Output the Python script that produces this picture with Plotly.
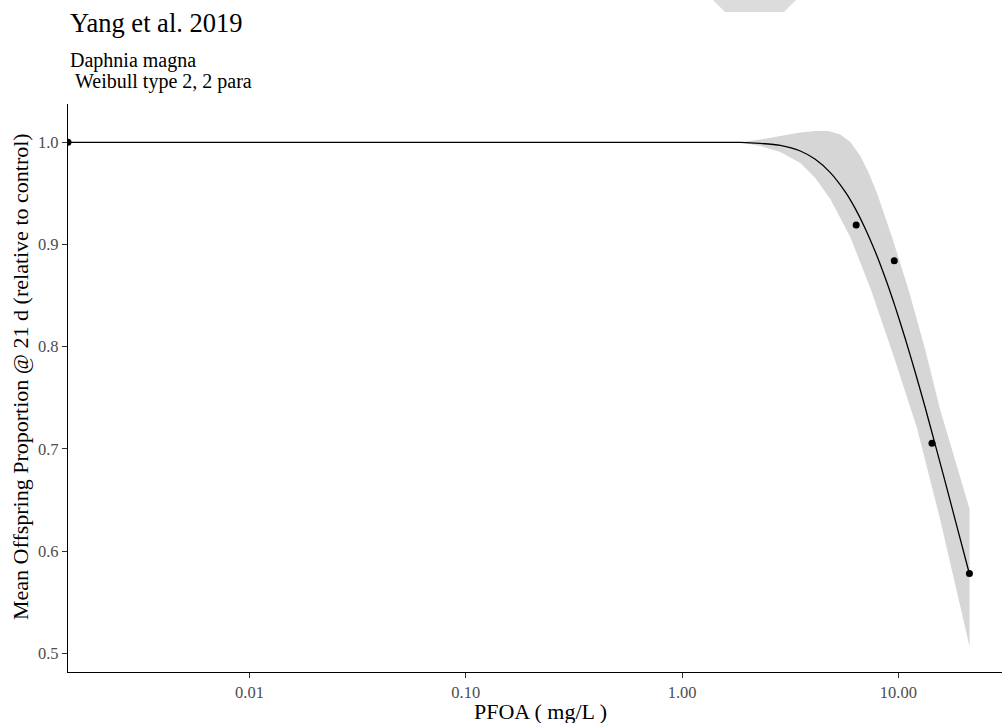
import plotly.graph_objects as go

# Observed mean offspring proportions (dose 0 = control)
dose = [0, 6.38, 9.57, 14.3, 21.3]
response = [1.0, 0.919, 0.884, 0.7055, 0.578]

# Fitted Weibull (type 2, 2 parameter) curve
fit_dose = [1.502, 1.858, 2.299, 2.844, 3.520, 4.128, 4.844, 5.682, 6.321,
            7.031, 7.821, 8.698, 9.676, 10.76, 11.97, 13.32, 14.81, 16.48,
            18.33, 21.34]
fit_resp = [1.000, 1.000, 0.999, 0.997, 0.9915, 0.9834, 0.9704, 0.9515, 0.9351,
            0.9155, 0.8929, 0.8672, 0.8387, 0.8078, 0.7748, 0.7400, 0.7040,
            0.6673, 0.6301, 0.5771]

# 95% confidence band around the fit
band_dose_hi = [1.858, 2.299, 2.844, 3.520, 4.128, 4.742, 5.388, 5.993, 6.668,
                7.260, 7.963, 9.372, 11.15, 13.32, 15.62, 18.33, 21.34]
band_hi = [1.0, 1.0027, 1.0062, 1.0096, 1.0111, 1.0111, 1.0076, 1.0003, 0.9866,
           0.9710, 0.9504, 0.9064, 0.8555, 0.7968, 0.7381, 0.6872, 0.6412]
band_dose_lo = [1.858, 2.299, 2.844, 3.520, 4.128, 4.844, 5.993, 7.418, 9.471,
                12.19, 15.62, 21.34]
band_lo = [1.0, 0.9964, 0.9905, 0.9797, 0.9651, 0.9445, 0.9073, 0.8574, 0.7919,
           0.7205, 0.6304, 0.5065]

x_ticks = [0.01, 0.1, 1, 10]
x_labels = ["0.01", "0.10", "1.00", "10.00"]
y_ticks = [0.5, 0.6, 0.7, 0.8, 0.9, 1.0]
y_labels = ["0.5", "0.6", "0.7", "0.8", "0.9", "1.0"]

X_RANGE = [-2.839, 1.479]
Y_RANGE = [0.4817, 1.0375]
x_min = 10 ** X_RANGE[0]

SERIF = "Liberation Serif, Times New Roman, serif"
TXT = "#4D4D4D"

# control (zero dose) sits on the left edge of the log axis
dose_plot = [d if d > 0 else x_min for d in dose]
curve_x = [x_min] + fit_dose
curve_y = [fit_resp[0]] + fit_resp

band_x = band_dose_hi + band_dose_lo[::-1]
band_y = band_hi + band_lo[::-1]

fig = go.Figure()
fig.add_trace(go.Scatter(x=band_x, y=band_y, mode="lines", fill="toself",
                         fillcolor="rgb(214,214,214)", line=dict(width=0),
                         hoverinfo="skip", showlegend=False))
fig.add_trace(go.Scatter(x=curve_x, y=curve_y, mode="lines",
                         line=dict(color="black", width=1.3, shape="spline",
                                   smoothing=0.6),
                         showlegend=False))
fig.add_trace(go.Scatter(x=dose_plot, y=response, mode="markers",
                         marker=dict(color="black", size=7),
                         showlegend=False))

W, H = 1002, 723
L, R, T, B = 68, 0, 104, 51
pw, ph = W - L - R, H - T - B


def px(xp):
    return (xp - L) / pw


def py(yp):
    return (H - B - yp) / ph


def label(text, x, y, size, **kw):
    return dict(text=text, xref="paper", yref="paper", x=px(x), y=py(y),
                showarrow=False, yanchor="middle",
                font=dict(family=SERIF, size=size, color="black"), **kw)


fig.update_layout(
    width=W, height=H, autosize=False,
    margin=dict(l=L, r=R, t=T, b=B, pad=0),
    plot_bgcolor="white", paper_bgcolor="white",
    font=dict(family=SERIF, color=TXT),
    xaxis=dict(type="log", range=X_RANGE, tickvals=x_ticks, ticktext=x_labels,
               showgrid=False, zeroline=False, showline=True,
               linecolor="black", linewidth=1.2, ticks="outside", ticklen=5,
               tickwidth=1.1, tickcolor="#333333",
               tickfont=dict(family=SERIF, size=16.5, color=TXT)),
    yaxis=dict(range=Y_RANGE, tickvals=y_ticks, ticktext=y_labels,
               showgrid=False, zeroline=False, showline=True,
               linecolor="black", linewidth=1.2, ticks="outside", ticklen=5,
               tickwidth=1.1, tickcolor="#333333",
               tickfont=dict(family=SERIF, size=16.5, color=TXT)),
    annotations=[
        label("Yang et al. 2019", 68, 23, 26.5, xanchor="left"),
        label("Daphnia magna", 68, 60, 20, xanchor="left"),
        label("\u00a0Weibull type 2, 2 para", 68, 82, 20, xanchor="left"),
        label("Mean Offspring Proportion @ 21 d (relative to control)",
              20, 377, 22, xanchor="center", textangle=-90),
        label("PFOA ( mg/L )", 540, 711, 22, xanchor="center"),
    ],
    shapes=[
        dict(type="path", xref="paper", yref="paper", layer="above",
             path=f"M {px(713)} {py(0)} L {px(796)} {py(0)} L {px(784)} {py(12)} "
                  f"L {px(725)} {py(12)} Z",
             fillcolor="rgb(220,220,220)", line=dict(width=0)),
    ],
)

fig.write_html("out.html")
